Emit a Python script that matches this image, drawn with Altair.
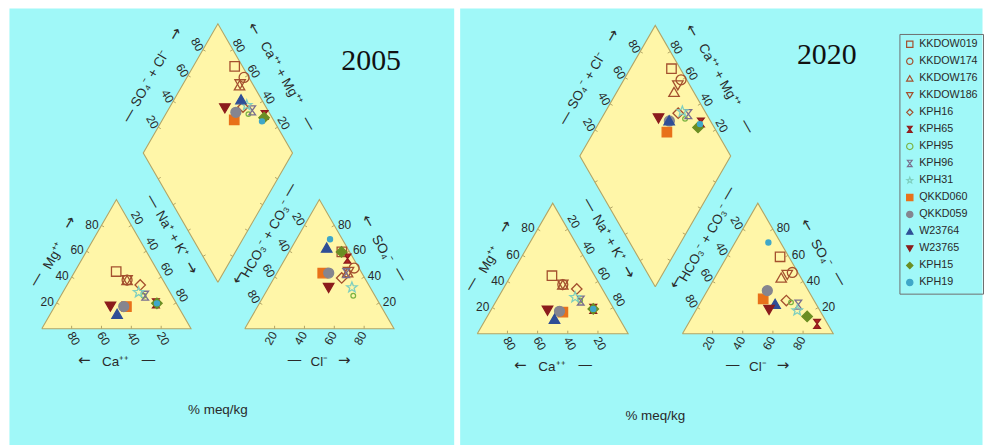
import math
import altair as alt
import pandas as pd

# Sample identifiers, in legend order
samples = ["KKDOW019", "KKDOW174", "KKDOW176", "KKDOW186", "KPH16", "KPH65", "KPH95",
           "KPH96", "KPH31", "QKKD060", "QKKD059", "W23764", "W23765", "KPH15", "KPH19"]

# 2005 composition, % meq/kg (Ca = 100 - Mg - NaK ; HCO3+CO3 = 100 - SO4 - Cl)
mg_2005 = [44.3, 37.7, 37.7, 37.7, 33.9, 19.7, 25.6, 25.6, 28.2, 17.2, 17.2, 11.5, 17.2, 19.7, 19.7]
nak_2005 = [27.7, 38.3, 38.3, 38.3, 49.0, 66.6, 55.4, 56.5, 50.8, 48.1, 46.3, 44.7, 37.4, 67.3, 67.3]
so4_2005 = [59.5, 47.0, 43.6, 44.0, 39.3, 54.3, 25.6, 43.0, 32.0, 43.1, 43.1, 62.8, 31.6, 59.5, 69.3]
cl_2005 = [35.3, 49.8, 47.1, 47.5, 45.3, 41.7, 59.9, 46.5, 55.8, 30.7, 34.7, 23.5, 40.4, 35.1, 22.5]

# 2020 composition, % meq/kg
mg_2020 = [44.4, 37.6, 37.6, 37.6, 34.3, 19.0, 25.4, 25.4, 27.9, 16.5, 17.2, 11.4, 17.7, 19.0, 19.0]
nak_2020 = [27.3, 37.9, 37.9, 37.9, 48.8, 67.4, 55.5, 55.9, 50.9, 48.5, 45.9, 45.5, 37.7, 67.4, 67.4]
so4_2020 = [58.9, 46.9, 43.0, 45.0, 25.4, 7.6, 24.0, 22.3, 17.8, 26.7, 33.0, 22.9, 18.3, 13.2, 69.8]
cl_2020 = [35.3, 49.4, 44.0, 47.0, 56.2, 85.5, 60.0, 65.7, 67.2, 40.2, 39.8, 50.0, 48.3, 76.1, 22.1]

tick_values = [20, 40, 60, 80]

# ---- marker styles -------------------------------------------------------
HOURGLASS = "M-0.75,-1L0.75,-1L-0.75,1L0.75,1Z"


def star_path(r_out=1.0, r_in=0.42):
    pts = []
    for k in range(10):
        r = r_out if k % 2 == 0 else r_in
        a = -math.pi / 2 + k * math.pi / 5
        pts.append(f"{r * math.cos(a):.3f},{r * math.sin(a):.3f}")
    return "M" + "L".join(pts) + "Z"


BROWN = "#a4502e"
shapes = ["square", "circle", "triangle-up", "triangle-down", "diamond", HOURGLASS, "circle",
          HOURGLASS, star_path(), "square", "circle", "triangle-up", "triangle-down", "diamond", "circle"]
strokes = [BROWN, BROWN, BROWN, BROWN, BROWN, "#8e1c1c", "#7cb342", "#7a6f8e", "#7fcfbf",
           "#e8711a", "#85858f", "#2f4e96", "#8b1c1c", "#6b8e23", "#3fa7c9"]
fills = ["transparent"] * 5 + ["#b22222", "transparent", "transparent", "transparent",
                               "#e8711a", "#85858f", "#2f4e96", "#8b1c1c", "#6b8e23", "#3fa7c9"]
marker_area = [90, 100, 110, 110, 110, 80, 22, 80, 120, 90, 100, 110, 110, 110, 26]

CYAN = "#a0f8f8"
YELLOW = "#fff6a8"
EDGE = "#b2a566"
TEXT = "#2a2a2a"
SANS = "Liberation Sans, Arial, sans-serif"

# ---- Piper geometry (triangle side = 100) --------------------------------
SQ = math.sqrt(3) / 2
H = 100 * SQ
GAP = 36
AX = 100 + GAP                      # left corner of anion triangle
BX, BY = 100 + GAP / 2, GAP / 2 * math.sqrt(3)   # diamond bottom vertex
LX, LY = BX - 50, BY + H             # diamond left vertex
RX, RY = BX + 50, BY + H             # diamond right vertex
TX, TY = BX, BY + 2 * H              # diamond top vertex

polys = {
    "cation": [(0, 0), (100, 0), (50, H)],
    "anion": [(AX, 0), (AX + 100, 0), (AX + 50, H)],
    "diamond": [(BX, BY), (RX, RY), (TX, TY), (LX, LY)],
}

area_df = pd.DataFrame(
    [dict(poly="cation", x=x, y=y, y2=0) for x, y in [(0, 0), (50, H), (100, 0)]]
    + [dict(poly="anion", x=AX + x, y=y, y2=0) for x, y in [(0, 0), (50, H), (100, 0)]]
    + [dict(poly="diamond", x=LX, y=LY, y2=LY), dict(poly="diamond", x=TX, y=TY, y2=BY),
       dict(poly="diamond", x=RX, y=RY, y2=RY)]
)

outline_rows, tick_rows = [], []
for name, pts in polys.items():
    closed = pts + [pts[0]]
    for k, (x, y) in enumerate(closed):
        outline_rows.append(dict(poly=name, k=k, x=x, y=y))
    for (x0, y0), (x1, y1) in zip(closed[:-1], closed[1:]):
        dx, dy = x1 - x0, y1 - y0
        ln = math.hypot(dx, dy)
        nx, ny = -dy / ln, dx / ln  # inward normal (counter-clockwise polygons)
        for v in tick_values:
            px, py = x0 + dx * v / 100, y0 + dy * v / 100
            tick_rows.append(dict(x=px, y=py, x2=px + 2.0 * nx, y2=py + 2.0 * ny))
outline_df = pd.DataFrame(outline_rows)
tick_df = pd.DataFrame(tick_rows)

# tick labels along the scaled edges
lab_rows = []
for v in tick_values:
    t = str(v)
    lab_rows += [
        dict(x=100 - v + 1.4, y=-6.5, t=t, a=60),                       # Ca (base)
        dict(x=v / 2 - 6.4, y=v * SQ + 0.5, t=t, a=0),                   # Mg
        dict(x=50 + v / 2 + 3.9, y=H - v * SQ + 5.2, t=t, a=60),         # Na + K
        dict(x=AX + v - 2.5, y=-6.4, t=t, a=300),                        # Cl (base)
        dict(x=AX + 100 - v / 2 + 6.9, y=v * SQ + 0.5, t=t, a=0),        # SO4
        dict(x=AX + 50 - v / 2 - 3.9, y=H - v * SQ + 4.2, t=t, a=60),    # HCO3 + CO3
        dict(x=LX + v / 2 - 3.8, y=LY + v * SQ + 3.4, t=t, a=60),        # SO4 + Cl
        dict(x=RX - v / 2 + 4.1, y=RY + v * SQ + 2.8, t=t, a=60),        # Ca + Mg
    ]
ticklab_df = pd.DataFrame(lab_rows)

# axis names
name_rows = [
    ("Ca⁺⁺", 49.5, -22.3, 0), ("Cl⁻", 186.0, -22.0, 0),
    ("Mg⁺⁺", 8.2, 48.9, 300), ("Na⁺ + K⁺", 87.1, 63.3, 60),
    ("SO₄⁻ + Cl⁻", 72.7, 167.7, 300), ("Ca⁺⁺ + Mg⁺⁺", 160.5, 171.1, 60),
    ("HCO₃⁻ + CO₃⁻", 150.5, 60.0, 300), ("SO₄⁻", 228.2, 53.3, 60),
    ("% meq/kg", 118.0, -54.5, 0),
]
name_df = pd.DataFrame(name_rows, columns=["t", "x", "y", "a"])

# direction arrows and lead dashes beside the axis names
arrow_rows = [
    ("←", 28.5, -21.0, 0), ("—", 71.5, -21.0, 0),
    ("—", 169.3, -21.0, 0), ("→", 202.7, -21.0, 0),
    ("—", -4.0, 33.3, 300), ("→", 18.2, 71.1, 300),
    ("—", 74.9, 85.5, 60), ("→", 100.5, 41.1, 60),
    ("—", 58.2, 143.3, 300), ("→", 89.3, 197.7, 300),
    ("←", 142.7, 201.1, 60), ("—", 179.3, 137.7, 60),
    ("←", 131.5, 34.4, 300), ("—", 166.0, 93.3, 300),
    ("←", 218.9, 72.2, 60), ("—", 240.5, 36.7, 60),
]
arrow_df = pd.DataFrame(arrow_rows, columns=["t", "x", "y", "a"])


def piper_points(mg, nak, so4, cl):
    rows = []
    for i, s in enumerate(samples):
        sc, cm = so4[i] + cl[i], 100 - nak[i]
        a = marker_area[i]
        rows.append(dict(sample=s, area=a, x=nak[i] + mg[i] / 2, y=mg[i] * SQ))
        rows.append(dict(sample=s, area=a, x=AX + cl[i] + so4[i] / 2, y=so4[i] * SQ))
        rows.append(dict(sample=s, area=a, x=BX + (sc - cm) / 2, y=BY + (sc + cm) * SQ))
    return pd.DataFrame(rows)


legend = alt.Legend(orient="none", legendX=895, legendY=26, title=None,
                    padding=5, strokeColor="#6e6e6e", labelFont=SANS, labelFontSize=10.8,
                    labelColor=TEXT, symbolSize=40, symbolStrokeWidth=1.2, rowPadding=5.1,
                    labelOffset=4)


def panel(year, mg, nak, so4, cl, xdom, ydom, width, height, year_xy):
    xs = alt.Scale(domain=xdom, nice=False, zero=False)
    ys = alt.Scale(domain=ydom, nice=False, zero=False)

    def X(f):
        return alt.X(f, type="quantitative", scale=xs, axis=None)

    def Y(f):
        return alt.Y(f, type="quantitative", scale=ys, axis=None)

    angle = alt.Angle("a:Q", scale=None)
    areas = alt.Chart(area_df).mark_area(color=YELLOW, opacity=1).encode(
        x=X("x"), y=Y("y"), y2="y2:Q", detail="poly:N")
    lines = alt.Chart(outline_df).mark_line(color=EDGE, strokeWidth=1.1).encode(
        x=X("x"), y=Y("y"), detail="poly:N", order="k:Q")
    ticks = alt.Chart(tick_df).mark_rule(color=EDGE, strokeWidth=1).encode(
        x=X("x"), y=Y("y"), x2="x2:Q", y2="y2:Q")
    tlabels = alt.Chart(ticklab_df).mark_text(font=SANS, fontSize=12, color=TEXT).encode(
        x=X("x"), y=Y("y"), text="t:N", angle=angle)
    names = alt.Chart(name_df).mark_text(font=SANS, fontSize=13.5, color=TEXT).encode(
        x=X("x"), y=Y("y"), text="t:N", angle=angle)
    arrows = alt.Chart(arrow_df).mark_text(font="DejaVu Sans", fontSize=15, color=TEXT).encode(
        x=X("x"), y=Y("y"), text="t:N", angle=angle)
    ytitle = alt.Chart(pd.DataFrame([dict(t=year, x=year_xy[0], y=year_xy[1])])).mark_text(
        font="Liberation Serif, Times New Roman, serif", fontSize=30, color="#111111",
        baseline="alphabetic").encode(x=X("x"), y=Y("y"), text="t:N")

    pts = alt.Chart(piper_points(mg, nak, so4, cl)).mark_point(opacity=1, strokeWidth=1.3).encode(
        x=X("x"), y=Y("y"),
        shape=alt.Shape("sample:N", scale=alt.Scale(domain=samples, range=shapes), legend=legend),
        stroke=alt.Stroke("sample:N", scale=alt.Scale(domain=samples, range=strokes), legend=legend),
        fill=alt.Fill("sample:N", scale=alt.Scale(domain=samples, range=fills), legend=legend),
        size=alt.Size("area:Q", scale=None),
    )
    return alt.layer(areas, lines, ticks, tlabels, names, arrows, ytitle, pts).properties(
        width=width, height=height)


left = panel("2005", mg_2005, nak_2005, so4_2005, cl_2005,
             [-22.0, 276.0], [-77.8, 214.9], 447, 439, (220.7, 173.6))
right = panel("2020", mg_2020, nak_2020, so4_2020, cl_2020,
              [-11.68, 334.63], [-73.7, 215.9], 525, 439, (231.7, 179.0))

chart = alt.hconcat(left, right, spacing=4).properties(
    padding={"left": 8, "top": 6, "right": 0, "bottom": 0},
    background="white",
).configure_view(fill=CYAN, stroke="transparent")

chart.save("out.html", embed_options={"renderer": "svg", "actions": False})
